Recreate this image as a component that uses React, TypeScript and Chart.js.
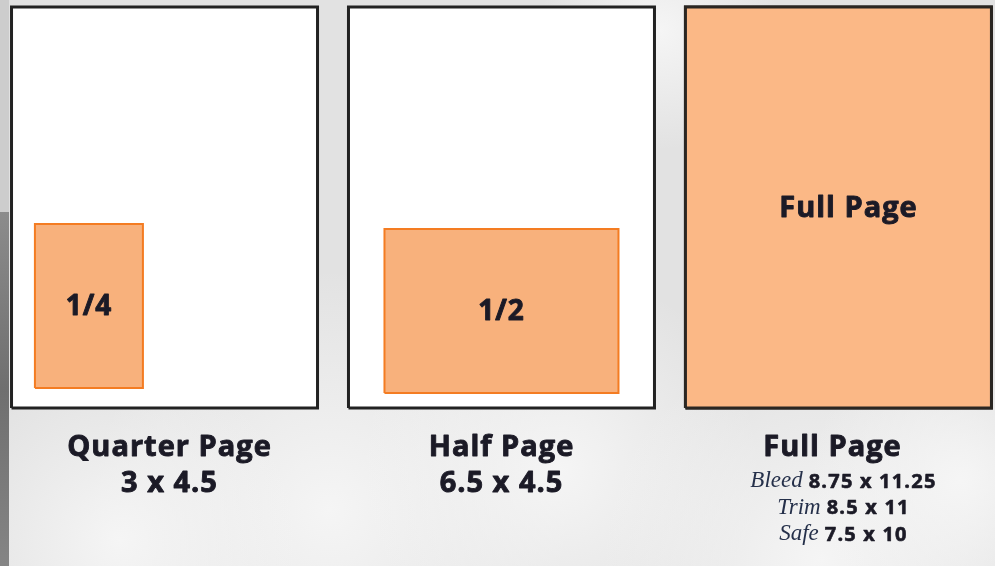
import { useEffect, useRef } from "react";
import { Chart, registerables } from "chart.js";
Chart.register(...registerables);

// ---- data (inches) ----
const pageNames = ["Quarter Page", "Half Page", "Full Page"];
const pageSizes = ["3 x 4.5", "6.5 x 4.5", ""];
const adLabels = ["1/4", "1/2", "Full Page"];
const adWidths = [3, 6.5, 8.5];
const adHeights = [4.5, 4.5, 11];
const pageWidth = 8.5;
const pageHeight = 11;
const specNames = ["Bleed", "Trim", "Safe"];
const specValues = ["8.75 x 11.25", "8.5 x 11", "7.5 x 10"];

// ---- layout ----
const PANEL_STEP = 9.36;
const AD_OFFSET_X = [0.65, 1.0, 0];
const AD_OFFSET_Y = [0.55, 0.41, 0];
const TITLE_SHIFT = [5, 0, -6];
const X_MIN = -0.32;
const X_MAX = X_MIN + 995 / 36;
const Y_MAX = 11 + 7 / 36.45;
const Y_MIN = -(566 - 408) / 36.45;

const TEXT = "#1b1a26";
const SANS = "'Open Sans', 'Noto Sans', sans-serif";

function rect(x0: number, y0: number, w: number, h: number) {
  return [
    { x: x0, y: y0 },
    { x: x0 + w, y: y0 },
    { x: x0 + w, y: y0 + h },
    { x: x0, y: y0 + h },
    { x: x0, y: y0 },
  ];
}

function heavyText(c: CanvasRenderingContext2D, s: string, x: number, y: number, lw: number) {
  c.lineWidth = lw;
  c.strokeStyle = c.fillStyle as string;
  c.lineJoin = "round";
  c.strokeText(s, x, y);
  c.fillText(s, x, y);
}

export default function App() {
  const ref = useRef<HTMLCanvasElement>(null);
  useEffect(() => {
    const canvas = ref.current!;
    const ads = adWidths.map((w, i) => ({
      data: rect(i * PANEL_STEP + AD_OFFSET_X[i], AD_OFFSET_Y[i], w, adHeights[i]),
      backgroundColor: i === 2 ? "#fbb886" : "#f8b17c",
      borderColor: i === 2 ? "#2a2622" : "#f47c22",
      borderWidth: i === 2 ? 3 : 2,
      fill: "shape",
      pointRadius: 0,
      tension: 0,
      borderJoinStyle: "miter",
    }));
    const pages = pageNames.map((_, i) => ({
      data: rect(i * PANEL_STEP, 0, pageWidth, pageHeight),
      backgroundColor: "#ffffff",
      borderColor: "#222222",
      borderWidth: 3,
      fill: "shape",
      pointRadius: 0,
      tension: 0,
      borderJoinStyle: "miter",
    }));

    const bg = {
      id: "bg",
      beforeDraw(chart: any) {
        const c = chart.ctx;
        const W = chart.width, H = chart.height;
        c.save();
        c.fillStyle = "#e2e2e2";
        c.fillRect(0, 0, W, H);
        const spots = [
          [330, 510, 240], [120, 540, 180], [560, 470, 200], [820, 560, 220], [660, 30, 120], [960, 480, 150],
        ];
        for (const [x, y, r] of spots) {
          const g = c.createRadialGradient(x, y, 0, x, y, r);
          g.addColorStop(0, "rgba(246,246,246,0.95)");
          g.addColorStop(1, "rgba(246,246,246,0)");
          c.fillStyle = g;
          c.fillRect(0, 0, W, H);
        }
        c.fillStyle = "#cdcdcd";
        c.fillRect(0, 0, 9, 212);
        const lg = c.createLinearGradient(0, 212, 0, H);
        lg.addColorStop(0, "#8c8c8c");
        lg.addColorStop(0.5, "#6f6f6f");
        lg.addColorStop(1, "#858585");
        c.fillStyle = lg;
        c.fillRect(0, 212, 9, H - 212);
        c.restore();
      },
    };

    const labels = {
      id: "labels",
      afterDatasetsDraw(chart: any) {
        const c = chart.ctx;
        const xs = chart.scales.x, ys = chart.scales.y;
        c.save();
        c.fillStyle = TEXT;
        c.textAlign = "center";
        c.textBaseline = "middle";
        c.letterSpacing = "1px";
        adLabels.forEach((lab, i) => {
          const cx = xs.getPixelForValue(i * PANEL_STEP + AD_OFFSET_X[i] + adWidths[i] / 2);
          const cy = ys.getPixelForValue(AD_OFFSET_Y[i] + adHeights[i] / 2);
          c.font = `bold ${i === 2 ? 29 : 28}px ${SANS}`;
          heavyText(c, lab, i === 2 ? cx + 10 : cx, cy + 1, 0.9);
        });
        const base = ys.getPixelForValue(0);
        pageNames.forEach((name, i) => {
          const cx = xs.getPixelForValue(i * PANEL_STEP + pageWidth / 2) + TITLE_SHIFT[i];
          c.textAlign = "center";
          c.font = `bold 29px ${SANS}`;
          heavyText(c, name, cx, base + 40, 0.9);
          if (pageSizes[i]) heavyText(c, pageSizes[i], cx, base + 76, 0.9);
        });
        // full page specs
        const cx3 = xs.getPixelForValue(2 * PANEL_STEP + pageWidth / 2) + 5;
        specNames.forEach((nm, k) => {
          const y = base + 73 + k * 26.5;
          const serif = `italic 23px 'Liberation Serif', serif`;
          const sans = `bold 20px ${SANS}`;
          c.letterSpacing = "0px";
          c.font = serif;
          const w1 = c.measureText(nm).width;
          c.letterSpacing = "1.2px";
          c.font = sans;
          const w2 = c.measureText(specValues[k]).width;
          const gap = 6;
          const x0 = cx3 - (w1 + gap + w2) / 2;
          c.textAlign = "left";
          c.letterSpacing = "0px";
          c.font = serif;
          c.fillStyle = "#25304a";
          c.fillText(nm, x0, y);
          c.letterSpacing = "1.2px";
          c.font = sans;
          c.fillStyle = TEXT;
          heavyText(c, specValues[k], x0 + w1 + gap, y + 1, 0.6);
        });
        c.restore();
      },
    };

    const chart = new Chart(canvas, {
      type: "line",
      data: { datasets: [...ads, ...pages] as any },
      options: {
        animation: false,
        responsive: false,
        events: [],
        layout: { padding: 0 },
        plugins: { legend: { display: false }, tooltip: { enabled: false } },
        scales: {
          x: { type: "linear", min: X_MIN, max: X_MAX, display: false },
          y: { type: "linear", min: Y_MIN, max: Y_MAX, display: false },
        },
        elements: { line: { tension: 0 } },
      },
      plugins: [bg, labels],
    });
    return () => chart.destroy();
  }, []);
  return (
    <div style={{ position: "fixed", left: 0, top: 0, width: 995, height: 566 }}>
      <canvas ref={ref} width={995} height={566} />
    </div>
  );
}
